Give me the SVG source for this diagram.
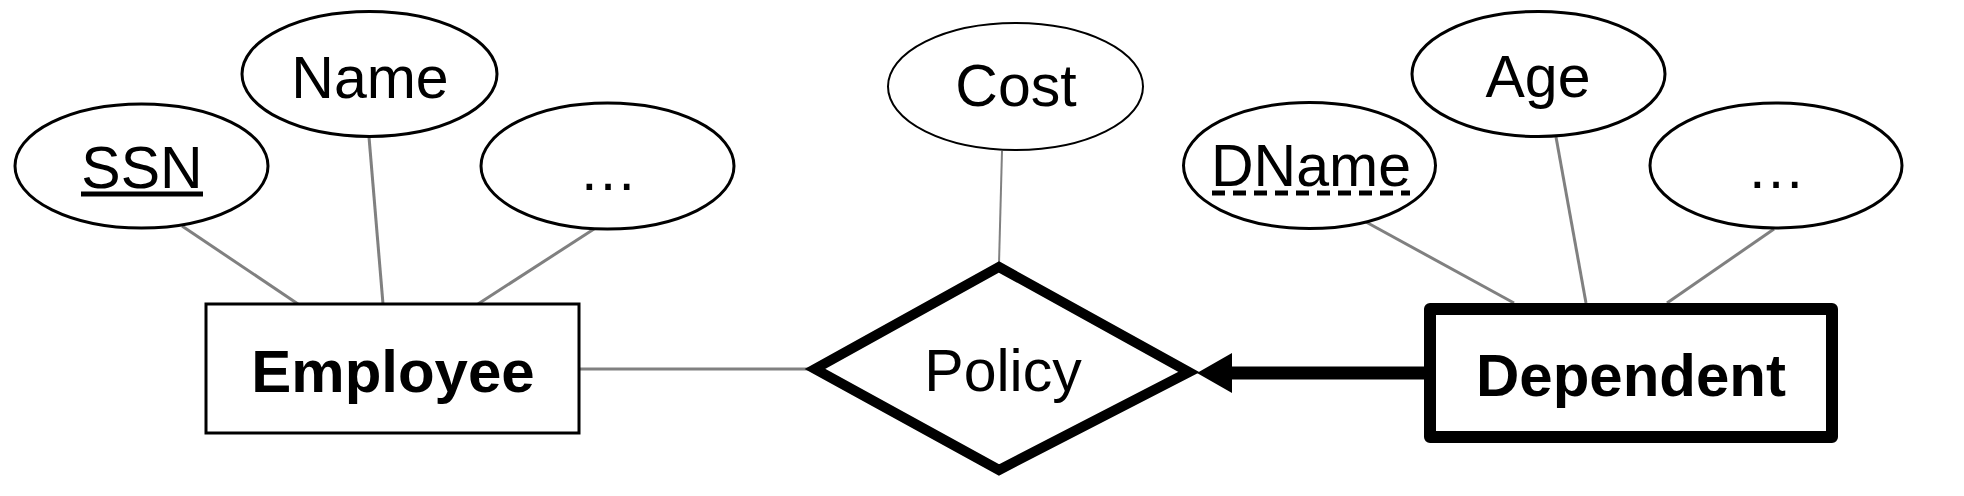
<svg xmlns="http://www.w3.org/2000/svg" width="1964" height="496" viewBox="0 0 1964 496">
<style>
.attr{fill:#fff;stroke:#000;stroke-width:3}
.thin{fill:#fff;stroke:#000;stroke-width:2}
.lbl{font-family:"Liberation Sans",Arial,sans-serif;font-size:59px;fill:#000;text-anchor:middle}
.bold{font-weight:bold;font-size:60px}
.conn{stroke:#808080;stroke-width:3;fill:none}
</style>
<g id="connectors">
<line class="conn" x1="182" y1="226" x2="298" y2="304"/>
<line class="conn" x1="369" y1="137" x2="383" y2="304"/>
<line class="conn" x1="594" y1="229" x2="478" y2="304"/>
<line class="conn" x1="580" y1="369" x2="812" y2="369"/>
<line class="conn" style="stroke-width:2" x1="1002" y1="151" x2="999" y2="264"/>
<line class="conn" x1="1366" y1="222" x2="1514" y2="303"/>
<line class="conn" x1="1556" y1="137" x2="1586" y2="303"/>
<line class="conn" x1="1774" y1="229" x2="1667" y2="303"/>
<line x1="1424" y1="373" x2="1230" y2="373" stroke="#000" stroke-width="13"/>
<path d="M1197,373 L1232,353 L1232,393 Z" fill="#000"/>
</g>
<g id="ssn">
<ellipse class="attr" cx="141.5" cy="166" rx="126.5" ry="62"/>
<text class="lbl" x="142" y="188">SSN</text>
<line x1="81" y1="194" x2="203" y2="194" stroke="#000" stroke-width="5"/>
</g>
<g id="name">
<ellipse class="attr" cx="369.5" cy="74" rx="127.5" ry="62.5"/>
<text class="lbl" x="370" y="98">Name</text>
</g>
<g id="emp-more">
<ellipse class="attr" cx="607.5" cy="166" rx="126.5" ry="63"/>
<text class="lbl" x="608" y="190">…</text>
</g>
<g id="employee">
<rect x="206" y="304" width="373" height="129" fill="#fff" stroke="#000" stroke-width="3"/>
<text class="lbl bold" x="393" y="392">Employee</text>
</g>
<g id="cost">
<ellipse class="thin" cx="1015.5" cy="86.5" rx="127.5" ry="63.5"/>
<text class="lbl" x="1016" y="106">Cost</text>
</g>
<g id="policy">
<path d="M999,267 L1189,372 L999,470 L815,369 Z" fill="#fff" stroke="#000" stroke-width="10" stroke-linejoin="miter"/>
<text class="lbl" x="1003" y="391">Policy</text>
</g>
<g id="dname">
<ellipse class="attr" cx="1309.5" cy="165.5" rx="126" ry="63"/>
<text class="lbl" x="1311" y="186">DName</text>
<line x1="1212" y1="193" x2="1410" y2="193" stroke="#000" stroke-width="5" stroke-dasharray="13,8"/>
</g>
<g id="age">
<ellipse class="attr" cx="1538.5" cy="74" rx="126.5" ry="62.5"/>
<text class="lbl" x="1538" y="97">Age</text>
</g>
<g id="dep-more">
<ellipse class="attr" cx="1776" cy="165.5" rx="126" ry="62.5"/>
<text class="lbl" x="1776" y="188">…</text>
</g>
<g id="dependent">
<rect x="1430" y="309" width="402" height="128" fill="#fff" stroke="#000" stroke-width="12" stroke-linejoin="round"/>
<text class="lbl bold" x="1631" y="396">Dependent</text>
</g>
</svg>
